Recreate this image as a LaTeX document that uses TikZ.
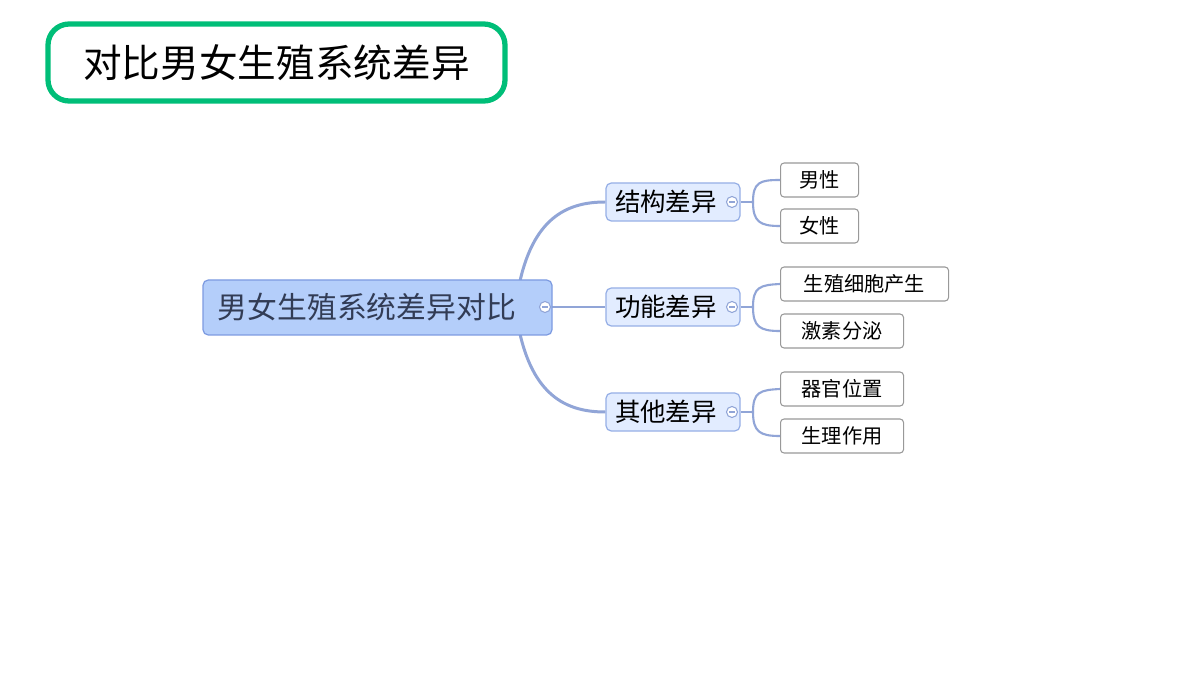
\documentclass[tikz,border=0pt]{standalone}
\usepackage{fontspec}
\newfontfamily\cjk{Noto Sans CJK SC}
\definecolor{grn}{RGB}{0,190,120}
\definecolor{cfill}{RGB}{180,206,250}
\definecolor{cdraw}{RGB}{125,155,225}
\definecolor{lfill}{RGB}{226,236,255}
\definecolor{ldraw}{RGB}{150,175,230}
\definecolor{conn}{RGB}{145,165,215}
\definecolor{ctext}{RGB}{50,60,85}
\begin{document}
\begin{tikzpicture}[x={(0.02cm,0)},y={(0,-0.02cm)},
  every node/.style={font=\cjk, inner sep=0pt},
  central/.style={draw=cdraw, fill=cfill, rounded corners=3pt, line width=0.7pt, minimum width=349*0.02cm, minimum height=55*0.02cm, font=\cjk\fontsize{17}{20}\selectfont, text=ctext},
  lvl/.style={draw=ldraw, fill=lfill, rounded corners=3pt, line width=0.7pt, minimum width=134*0.02cm, minimum height=38*0.02cm, font=\cjk\fontsize{14.5}{17}\selectfont},
  leaf/.style={draw=black!40, fill=white, rounded corners=2pt, line width=0.6pt, minimum height=34*0.02cm, anchor=west, font=\cjk\fontsize{11.5}{14}\selectfont},
  conA/.style={draw=conn, line width=1.7pt},
  conB/.style={draw=conn, line width=1.2pt},
  knob/.style={circle, draw=conn, fill=white, line width=0.6pt, minimum size=11*0.02cm}]
\useasboundingbox (0,0) rectangle (1200,675);
\fill[white] (0,0) rectangle (1200,675);
\node[draw=grn, line width=3pt, rounded corners=12pt, minimum width=457*0.02cm, minimum height=77*0.02cm, font=\cjk\fontsize{22}{26}\selectfont] (title) at (276.5,62.5) {对比男女生殖系统差异};
% connectors first
\coordinate (ct) at (520,281);
\coordinate (cb) at (520,334);
\node[lvl] (a) at (673,202) {\hspace*{-8pt}结构差异};
\node[lvl] (b) at (673,307) {\hspace*{-8pt}功能差异};
\node[lvl] (c) at (673,412) {\hspace*{-8pt}其他差异};
\draw[conA] (ct) .. controls (535,215) and (570,202) .. (a.west);
\draw[conA] (cb) .. controls (535,399) and (570,412) .. (c.west);
\draw[conA] (552,307) -- (b.west);
\node[central] (m) at (377.5,307.5) {\hspace*{-12pt}男女生殖系统差异对比};
\node[leaf, minimum width=78*0.02cm] (a1) at (780,180) {男性};
\node[leaf, minimum width=78*0.02cm] (a2) at (780,226) {女性};
\node[leaf, minimum width=168*0.02cm] (b1) at (780,284) {生殖细胞产生};
\node[leaf, minimum width=123*0.02cm] (b2) at (780,331) {激素分泌};
\node[leaf, minimum width=123*0.02cm] (c1) at (780,389) {器官位置};
\node[leaf, minimum width=123*0.02cm] (c2) at (780,436) {生理作用};
\foreach \p/\y/\u/\d in {a/202/a1/a2, b/307/b1/b2, c/412/c1/c2}{
  \draw[conB] (\p.east) -- (753,\y);
  \draw[conB] (753,\y) .. controls (753,\y-20) and (760,\y-22) .. (\u.west);
  \draw[conB] (753,\y) .. controls (753,\y+20) and (760,\y+24) .. (\d.west);
  \node[knob] (k\p) at (732,\y) {};
  \draw[conn, line width=0.8pt] (729,\y) -- (735,\y);
}
\node[knob] (km) at (545,307) {};
\draw[conn, line width=0.8pt] (542,307) -- (548,307);
\end{tikzpicture}
\end{document}
